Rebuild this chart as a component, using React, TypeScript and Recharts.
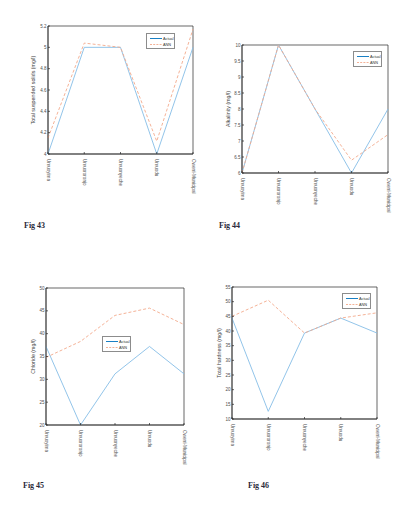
import React from 'react';
import { LineChart, Line, XAxis, YAxis, Legend, ReferenceArea } from 'recharts';

const sites = ['Umuoyima', 'Umuororonjo', 'Umuonyeche', 'Umuodu', 'Owerri-Municipal'];

const tssActual = [4, 5, 5, 4, 5];
const tssAnn = [4.15, 5.04, 5.0, 4.12, 5.17];
const tssTicks = [4, 4.2, 4.4, 4.6, 4.8, 5, 5.2];

const alkActual = [6, 10, 8, 6, 8];
const alkAnn = [6, 10, 8, 6.4, 7.2];
const alkTicks = [6, 6.5, 7, 7.5, 8, 8.5, 9, 9.5, 10];

const clActual = [37.2, 20, 31.2, 37.2, 31.2];
const clAnn = [34.8, 38.3, 44, 45.6, 42];
const clTicks = [20, 25, 30, 35, 40, 45, 50];

const thActual = [44.4, 12.6, 39.3, 44.4, 39.3];
const thAnn = [45, 50.5, 39.3, 44.4, 46.2];
const thTicks = [10, 15, 20, 25, 30, 35, 40, 45, 50, 55];

const SANS = '"Liberation Sans", Arial, sans-serif';
const AXIS = '#262626';
const TICK_TEXT = '#4d4d4d';
const ACTUAL_LINE = '#86bde6';
const ANN_LINE = '#f3a98b';

const build = (actual: number[], ann: number[]) =>
  sites.map((site, i) => ({ site, actual: actual[i], ann: ann[i] }));

const SiteTick = (props: any) => {
  const { x, y, payload } = props;
  return (
    <text
      x={x}
      y={y + 3}
      transform={`rotate(90 ${x} ${y + 3})`}
      fontSize={4.6}
      fill={TICK_TEXT}
      textAnchor="start"
      dominantBaseline="central"
      style={{ fontFamily: SANS }}
    >
      {payload.value}
    </text>
  );
};

const LegendBox = () => (
  <div
    style={{
      width: 29,
      height: 16,
      background: '#fff',
      border: '0.6px solid #8c8c8c',
      boxSizing: 'border-box',
      fontFamily: SANS,
    }}
  >
    <svg width={28} height={15} style={{ display: 'block' }}>
      <line x1={3} y1={4.5} x2={15} y2={4.5} stroke="#0072bd" strokeWidth={0.9} />
      <text x={16} y={5.8} fontSize={3.8} fill="#333" style={{ fontFamily: SANS }}>Actual</text>
      <line x1={3} y1={10.5} x2={15} y2={10.5} stroke={ANN_LINE} strokeWidth={0.9} strokeDasharray="2 1.2" />
      <text x={16} y={11.8} fontSize={3.8} fill="#333" style={{ fontFamily: SANS }}>ANN</text>
    </svg>
  </div>
);

interface PanelProps {
  data: { site: string; actual: number; ann: number }[];
  box: [number, number, number, number];
  domain: [number, number];
  ticks: number[];
  yLabel: string;
  labelOffset: number;
  legendAt: [number, number];
}

const Panel: React.FC<PanelProps> = ({ data, box, domain, ticks, yLabel, labelOffset, legendAt }) => {
  const [L, T, R, B] = box;
  const yw = 30;
  const chartLeft = L - yw;
  const chartTop = T - 5;
  const width = R - L + yw + 5;
  const height = B - T + 5 + 55;
  return (
    <div style={{ position: 'absolute', left: chartLeft, top: chartTop, fontFamily: SANS }}>
      <LineChart width={width} height={height} data={data} margin={{ top: 5, right: 5, left: 0, bottom: 0 }}>
        <XAxis
          dataKey="site"
          height={55}
          interval={0}
          tick={<SiteTick />}
          tickSize={-2}
          tickMargin={4}
          stroke={AXIS}
          strokeWidth={0.7}
        />
        <YAxis
          width={yw}
          domain={domain}
          ticks={ticks}
          interval={0}
          tickSize={-2}
          tickMargin={3.5}
          stroke={AXIS}
          strokeWidth={0.7}
          tick={{ fontSize: 4.5, fill: TICK_TEXT, style: { fontFamily: SANS } }}
          label={{
            value: yLabel,
            angle: -90,
            position: 'insideLeft',
            offset: labelOffset,
            fontSize: 5.3,
            fill: '#404040',
            style: { textAnchor: 'middle', fontFamily: SANS },
          }}
        />
        <ReferenceArea
          x1={sites[0]}
          x2={sites[sites.length - 1]}
          y1={domain[0]}
          y2={domain[1]}
          fill="none"
          fillOpacity={0}
          stroke={AXIS}
          strokeWidth={0.7}
        />
        <Legend
          layout="vertical"
          align="center"
          verticalAlign="middle"
          content={<LegendBox />}
          wrapperStyle={{ left: legendAt[0] - chartLeft, top: legendAt[1] - chartTop, width: 29, height: 16 }}
        />
        <Line type="linear" dataKey="actual" name="Actual" stroke={ACTUAL_LINE} strokeWidth={0.9} dot={false} isAnimationActive={false} />
        <Line type="linear" dataKey="ann" name="ANN" stroke={ANN_LINE} strokeWidth={0.9} strokeDasharray="3 2" dot={false} isAnimationActive={false} />
      </LineChart>
    </div>
  );
};

const figStyle: React.CSSProperties = {
  position: 'absolute',
  fontFamily: '"Liberation Serif", "DejaVu Serif", serif',
  fontSize: 8,
  fontWeight: 'bold',
  color: '#2a2a3a',
};

export default function App() {
  return (
    <div style={{ position: 'absolute', left: 0, top: 0, width: 408, height: 509, background: '#fff', overflow: 'hidden' }}>
      <Panel
        data={build(tssActual, tssAnn)}
        box={[48, 26, 193, 154]}
        domain={[4, 5.2]}
        ticks={tssTicks}
        yLabel="Total suspended solids (mg/l)"
        labelOffset={15}
        legendAt={[146, 33]}
      />
      <Panel
        data={build(alkActual, alkAnn)}
        box={[242, 45, 388, 173]}
        domain={[6, 10]}
        ticks={alkTicks}
        yLabel="Alkalinity (mg/l)"
        labelOffset={16}
        legendAt={[353, 51]}
      />
      <Panel
        data={build(clActual, clAnn)}
        box={[46, 288, 184, 425]}
        domain={[20, 50]}
        ticks={clTicks}
        yLabel="Chloride (mg/l)"
        labelOffset={17}
        legendAt={[102, 336]}
      />
      <Panel
        data={build(thActual, thAnn)}
        box={[232, 287, 377, 419]}
        domain={[10, 55]}
        ticks={thTicks}
        yLabel="Total hardness (mg/l)"
        labelOffset={17}
        legendAt={[342, 293]}
      />
      <div style={{ ...figStyle, left: 24, top: 221 }}>Fig 43</div>
      <div style={{ ...figStyle, left: 219, top: 221 }}>Fig 44</div>
      <div style={{ ...figStyle, left: 23, top: 481 }}>Fig 45</div>
      <div style={{ ...figStyle, left: 248, top: 481 }}>Fig 46</div>
    </div>
  );
}
